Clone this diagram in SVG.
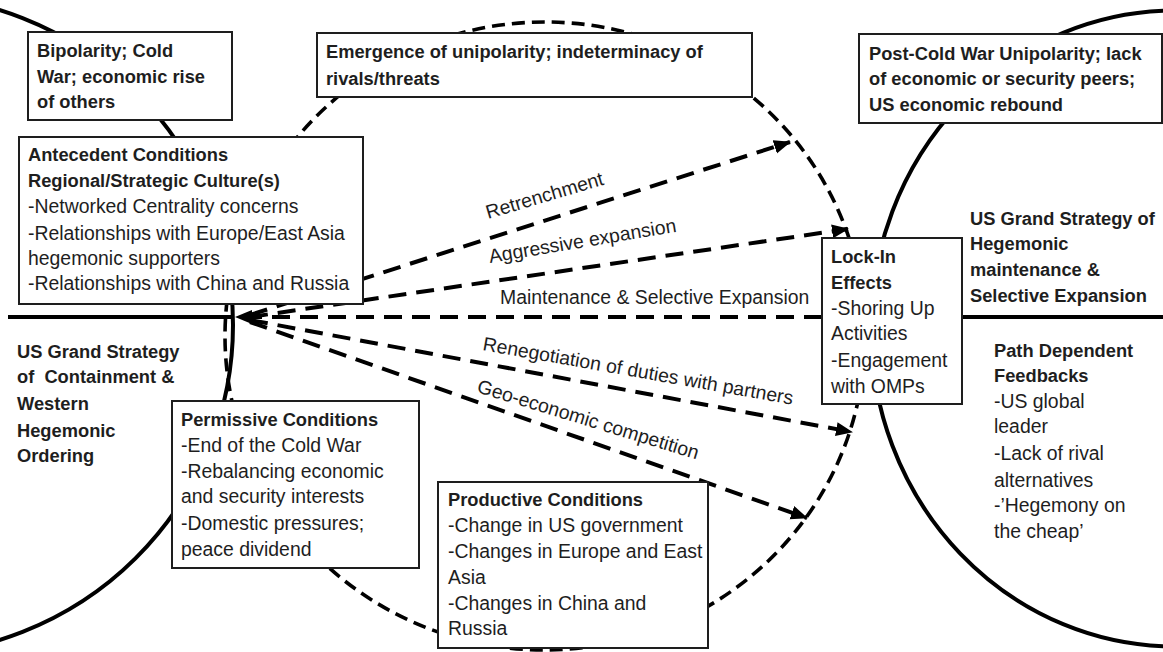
<svg xmlns="http://www.w3.org/2000/svg" width="1163" height="652" viewBox="0 0 1163 652">
  <style>
    text { font-family: "Liberation Sans", Arial, sans-serif; fill: #1e1e1e; }
    .b { font-weight: bold; font-size: 18.3px; }
    .r { font-size: 19.4px; }
    .box { fill: #fff; stroke: #1e1e1e; stroke-width: 2; }
    .solid { fill: none; stroke: #000; stroke-width: 4; }
    .ring { fill: none; stroke: #000; stroke-width: 3.6; stroke-dasharray: 13 7; }
    .flow { fill: none; stroke: #000; stroke-width: 4; stroke-dasharray: 18 10; }
  </style>
  <defs>
    <marker id="head" markerUnits="userSpaceOnUse" markerWidth="20" markerHeight="16" refX="16" refY="7" orient="auto">
      <path d="M0,0 L17,7 L0,14 z" fill="#000"/>
    </marker>
  </defs>
  <rect width="1163" height="652" fill="#fff"/>

  <!-- era spheres: left and right solid, middle transition dashed -->
  <g id="spheres">
    <ellipse class="solid" cx="-100" cy="325" rx="333" ry="330"/>
    <ellipse class="solid" cx="1175" cy="328.5" rx="304" ry="318"/>
    <line class="solid" x1="8" y1="317" x2="232" y2="317"/>
    <line class="solid" x1="962" y1="317" x2="1163" y2="317"/>
    <ellipse class="ring" cx="545" cy="336" rx="320" ry="314"/>
  </g>

  <!-- strategy pathways -->
  <g id="connectors">
    <line class="flow" x1="250" y1="315" x2="790" y2="142" marker-end="url(#head)"/>
    <line class="flow" x1="250" y1="317" x2="848" y2="229" marker-end="url(#head)"/>
    <line class="flow" x1="822" y1="317" x2="236" y2="317" marker-end="url(#head)"/>
    <line class="flow" x1="250" y1="320" x2="852" y2="432" marker-end="url(#head)"/>
    <line class="flow" x1="250" y1="322" x2="807" y2="518" marker-end="url(#head)"/>
  </g>

  <g id="path-labels" class="r">
    <text transform="translate(488,219) rotate(-16.5)">Retrenchment</text>
    <text transform="translate(490,263) rotate(-9.5)">Aggressive expansion</text>
    <text x="500" y="304">Maintenance &amp; Selective Expansion</text>
    <text transform="translate(482,350) rotate(10)">Renegotiation of duties with partners</text>
    <text transform="translate(476,392) rotate(17)">Geo-economic competition</text>
  </g>

  <g id="bipolarity">
    <rect class="box" x="28" y="32" width="204" height="88"/>
    <text class="b" x="37" y="57">Bipolarity; Cold</text>
    <text class="b" x="37" y="83">War; economic rise</text>
    <text class="b" x="37" y="108">of others</text>
  </g>

  <g id="antecedent">
    <rect class="box" x="19" y="137" width="344" height="167"/>
    <text class="b" x="28" y="161">Antecedent Conditions</text>
    <text class="b" x="28" y="187">Regional/Strategic Culture(s)</text>
    <text class="r" x="28" y="213">-Networked Centrality concerns</text>
    <text class="r" x="28" y="240">-Relationships with Europe/East Asia</text>
    <text class="r" x="28" y="265">hegemonic supporters</text>
    <text class="r" x="28" y="290">-Relationships with China and Russia</text>
  </g>

  <g id="emergence">
    <rect class="box" x="317" y="33" width="435" height="64"/>
    <text class="b" x="326" y="58">Emergence of unipolarity; indeterminacy of</text>
    <text class="b" x="326" y="85">rivals/threats</text>
  </g>

  <g id="post-cold-war">
    <rect class="box" x="859" y="34" width="303" height="89"/>
    <text class="b" x="869" y="60">Post-Cold War Unipolarity; lack</text>
    <text class="b" x="869" y="85">of economic or security peers;</text>
    <text class="b" x="869" y="111">US economic rebound</text>
  </g>

  <g id="containment">
    <text class="b" x="17" y="358">US Grand Strategy</text>
    <text class="b" x="17" y="383" xml:space="preserve">of  Containment &amp;</text>
    <text class="b" x="17" y="410">Western</text>
    <text class="b" x="17" y="437">Hegemonic</text>
    <text class="b" x="17" y="462">Ordering</text>
  </g>

  <g id="hegemonic-maintenance">
    <text class="b" x="970" y="225">US Grand Strategy of</text>
    <text class="b" x="970" y="250">Hegemonic</text>
    <text class="b" x="970" y="276">maintenance &amp;</text>
    <text class="b" x="970" y="302">Selective Expansion</text>
  </g>

  <g id="lock-in">
    <rect class="box" x="822" y="238" width="140" height="166"/>
    <text class="b" x="831" y="263">Lock-In</text>
    <text class="b" x="831" y="289">Effects</text>
    <text class="r" x="831" y="315">-Shoring Up</text>
    <text class="r" x="831" y="340">Activities</text>
    <text class="r" x="831" y="367">-Engagement</text>
    <text class="r" x="831" y="393">with OMPs</text>
  </g>

  <g id="path-dependent">
    <text class="b" x="994" y="357">Path Dependent</text>
    <text class="b" x="994" y="382">Feedbacks</text>
    <text class="r" x="994" y="408">-US global</text>
    <text class="r" x="994" y="433">leader</text>
    <text class="r" x="994" y="460">-Lack of rival</text>
    <text class="r" x="994" y="487">alternatives</text>
    <text class="r" x="994" y="512">-’Hegemony on</text>
    <text class="r" x="994" y="538">the cheap’</text>
  </g>

  <g id="permissive">
    <rect class="box" x="172" y="401" width="247" height="167"/>
    <text class="b" x="181" y="426">Permissive Conditions</text>
    <text class="r" x="181" y="452">-End of the Cold War</text>
    <text class="r" x="181" y="478">-Rebalancing economic</text>
    <text class="r" x="181" y="503">and security interests</text>
    <text class="r" x="181" y="530">-Domestic pressures;</text>
    <text class="r" x="181" y="556">peace dividend</text>
  </g>

  <g id="productive">
    <rect class="box" x="438" y="482" width="270" height="166"/>
    <text class="b" x="448" y="506">Productive Conditions</text>
    <text class="r" x="448" y="532">-Change in US government</text>
    <text class="r" x="448" y="558">-Changes in Europe and East</text>
    <text class="r" x="448" y="584">Asia</text>
    <text class="r" x="448" y="610">-Changes in China and</text>
    <text class="r" x="448" y="635">Russia</text>
  </g>
</svg>
